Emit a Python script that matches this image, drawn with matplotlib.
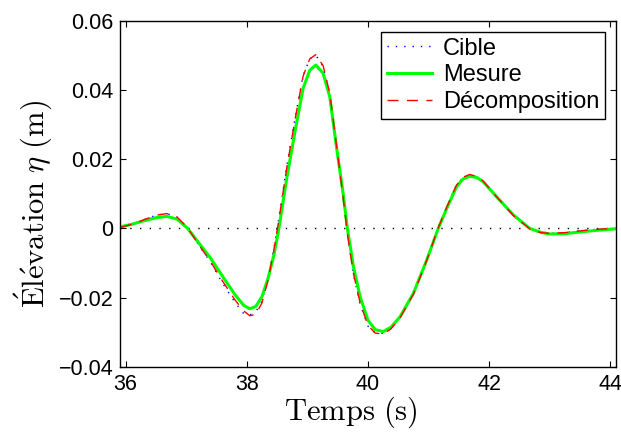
import matplotlib
matplotlib.use("Agg")
import matplotlib.pyplot as plt

plt.rcParams['font.family'] = ['Liberation Sans', 'DejaVu Sans']
plt.rcParams['mathtext.fontset'] = 'cm'

t = [35.92, 36.1, 36.3, 36.5, 36.68, 36.85, 37.02, 37.2, 37.4, 37.6, 37.8, 37.95,
     38.05, 38.15, 38.25, 38.35, 38.45, 38.53, 38.66, 38.8, 38.93, 39.04, 39.14,
     39.26, 39.37, 39.48, 39.59, 39.66, 39.76, 39.87, 40.0, 40.12, 40.25, 40.38,
     40.53, 40.75, 40.97, 41.16, 41.3, 41.46, 41.57, 41.68, 41.8, 41.9, 42.12,
     42.4, 42.67, 42.85, 43.0, 43.25, 43.5, 43.8, 44.08]

mesure = [0.0005, 0.0012, 0.0022, 0.0031, 0.0035, 0.0027, 0.0001, -0.0040, -0.0085,
          -0.0138, -0.0190, -0.0222, -0.0232, -0.0225, -0.0197, -0.0145, -0.0075, 0.0,
          0.0145, 0.0284, 0.0405, 0.0457, 0.0472, 0.0448, 0.0380, 0.0236, 0.0101, 0.0,
          -0.0110, -0.0197, -0.0265, -0.0292, -0.0298, -0.0285, -0.0255, -0.0187,
          -0.0091, 0.0, 0.0058, 0.0120, 0.0143, 0.0151, 0.0147, 0.0135, 0.0092,
          0.0039, 0.0, -0.0011, -0.0016, -0.0015, -0.0010, -0.0005, -0.0001]

decomposition = [0.0003, 0.0012, 0.0025, 0.0038, 0.0043, 0.0033, 0.0003, -0.0045, -0.0095,
                 -0.0152, -0.0205, -0.0238, -0.0252, -0.0248, -0.0215, -0.0150, -0.0060,
                 0.0025, 0.0175, 0.0318, 0.0440, 0.0490, 0.0502, 0.0470, 0.0390, 0.0240,
                 0.0090, -0.0015, -0.0130, -0.0215, -0.0280, -0.0302, -0.0305, -0.0290,
                 -0.0258, -0.0190, -0.0092, 0.0002, 0.0062, 0.0125, 0.0148, 0.0156,
                 0.0150, 0.0137, 0.0092, 0.0037, -0.0001, -0.0012, -0.0014, -0.0012,
                 -0.0007, -0.0002, 0.0]

cible = [0.0003, 0.0012, 0.0025, 0.0038, 0.0043, 0.0032, 0.0002, -0.0046, -0.0097,
         -0.0158, -0.0212, -0.0246, -0.0250, -0.0240, -0.0210, -0.0145, -0.0055,
         0.0030, 0.0180, 0.0322, 0.0442, 0.0490, 0.0500, 0.0468, 0.0388, 0.0238,
         0.0088, -0.0017, -0.0133, -0.0218, -0.0282, -0.0302, -0.0303, -0.0288,
         -0.0256, -0.0188, -0.0090, 0.0003, 0.0063, 0.0126, 0.0148, 0.0155,
         0.0149, 0.0136, 0.0091, 0.0036, -0.0001, -0.0012, -0.0014, -0.0012,
         -0.0007, -0.0002, 0.0]

xticks = [36, 38, 40, 42, 44]
yticks = [-0.04, -0.02, 0, 0.02, 0.04, 0.06]
ytick_labels = ['\u22120.04', '\u22120.02', '0', '0.02', '0.04', '0.06']

fig = plt.figure(figsize=(6.21, 4.36), dpi=100)
ax = fig.add_axes([0.194, 0.1583, 0.9913 - 0.194, 0.9525 - 0.1583])

ax.plot([35.916, 44.086], [0, 0], color='black', linestyle=(0, (1, 6)), lw=1.0)
l1, = ax.plot(t, cible, color='blue', linestyle=(0, (1, 5)), lw=1.0, label='Cible')
l2, = ax.plot(t, mesure, color='#00ff00', linestyle='-', lw=2.2, label='Mesure')
l3, = ax.plot(t, decomposition, color='red', linestyle=(0, (8, 6)), lw=1.0, label='Décomposition')

ax.set_xlim(35.916, 44.086)
ax.set_ylim(-0.04, 0.06)
ax.set_xticks(xticks)
ax.set_xticklabels([str(x) for x in xticks])
ax.set_yticks(yticks)
ax.set_yticklabels(ytick_labels)
ax.tick_params(direction='in', top=True, right=True, length=4, width=0.8,
               labelsize=15.5, pad=5)
for s in ax.spines.values():
    s.set_linewidth(1.0)

ax.set_xlabel(r'$\mathrm{Temps\ (s)}$', fontsize=22, labelpad=0)
ax.set_ylabel(r'$\mathrm{\acute{E}l\acute{e}vation}\ \eta\ \mathrm{(m)}$', fontsize=22, labelpad=3)
ax.xaxis.label.set_x(0.465)
ax.yaxis.label.set_y(0.47)

leg = ax.legend(handles=[l1, l2, l3], loc='upper right', bbox_to_anchor=(0.9786, 0.968),
                borderaxespad=0, fontsize=17, fancybox=False, framealpha=1,
                edgecolor='black', handlelength=1.9, handletextpad=0.45,
                labelspacing=0.2, borderpad=0.25)
leg.get_frame().set_linewidth(1.0)

fig.savefig('out.png', dpi=100)
